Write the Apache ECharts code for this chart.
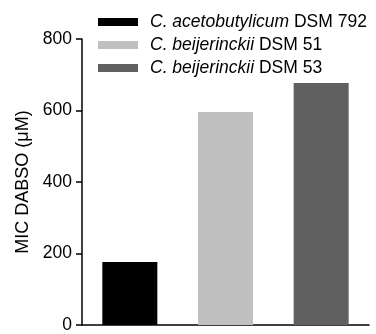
<!DOCTYPE html>
<html><head><meta charset="utf-8">
<script src="https://cdn.jsdelivr.net/npm/echarts@6/dist/echarts.min.js"></script>
<style>html,body{margin:0;padding:0;background:#fff}#c{width:376px;height:334px}</style>
</head><body><div id="c"></div>
<script>
const categories = ['DSM 792', 'DSM 51', 'DSM 53'];
const seriesNames = ['C. acetobutylicum DSM 792', 'C. beijerinckii DSM 51', 'C. beijerinckii DSM 53'];
const values = [176, 596, 677];
const colors = ['#000000', '#c0c0c0', '#606060'];
const yTicks = [0, 200, 400, 600, 800];

const font = '"Liberation Sans", Arial, sans-serif';
const chart = echarts.init(document.getElementById('c'));
const series = seriesNames.map((n, i) => ({
  name: n, type: 'bar', stack: 's', barWidth: 55,
  data: categories.map((c, j) => j === i ? values[i] : '-'),
  itemStyle: { color: colors[i] }
}));
chart.setOption({
  animation: false,
  textStyle: { fontFamily: font },
  grid: { left: 82, right: 7, top: 39, bottom: 8, containLabel: false },
  legend: {
    orient: 'vertical', left: 98, top: 13, padding: 0, itemWidth: 40, itemHeight: 8, itemGap: 5,
    icon: 'rect',
    data: seriesNames,
    formatter: n => { const k = n.lastIndexOf(' DSM'); return '{i|' + n.slice(0, k) + '}' + n.slice(k); },
    textStyle: { fontFamily: font, fontSize: 17.5, color: '#000', padding: [0,0,0,7],
      rich: { i: { fontFamily: font, fontSize: 17.5, fontStyle: 'italic', color: '#000' } } }
  },
  xAxis: {
    type: 'category', data: categories,
    axisLine: { lineStyle: { color: '#000', width: 1.5 } },
    axisTick: { show: false }, axisLabel: { show: false }
  },
  yAxis: {
    type: 'value', min: 0, max: 800, interval: 200,
    name: 'MIC DABSO (μM)', nameLocation: 'middle', nameGap: 49,
    nameTextStyle: { fontFamily: font, fontSize: 18, color: '#000' },
    axisLine: { show: true, lineStyle: { color: '#000', width: 1.5 } },
    axisTick: { show: true, length: 6, lineStyle: { color: '#000', width: 1.5 } },
    axisLabel: { fontFamily: font, fontSize: 17.5, color: '#000', margin: 10,
      formatter: v => yTicks.includes(v) ? String(v) : '' },
    splitLine: { show: false }
  },
  series
});
</script></body></html>
